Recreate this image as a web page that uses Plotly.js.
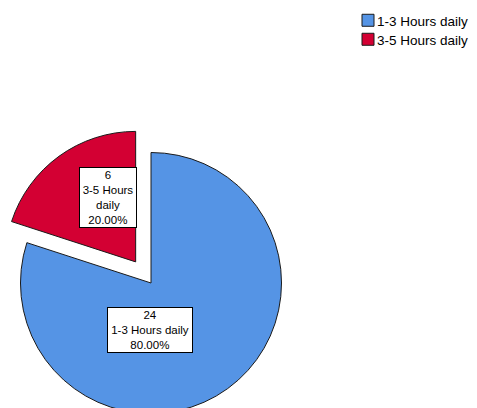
<!DOCTYPE html>
<html>
<head>
<meta charset="utf-8">
<script src="https://cdn.plot.ly/plotly-3.0.1.min.js"></script>
<style>
  html, body { margin: 0; padding: 0; overflow: hidden; background: #fff; width: 477px; height: 408px; }
  #chart { position: absolute; left: -10px; top: 0; width: 490px; height: 450px; }
</style>
</head>
<body>
<div id="chart"></div>
<script>
// ---- data ----
const categories = ['1-3 Hours daily', '3-5 Hours daily'];
const counts = [24, 6];
const sliceColors = ['#5594E5', '#D30033'];
const pulls = [0, 0.2];

// ---- layout geometry (pixels inside the plot div) ----
const W = 490, H = 450;
const cx = 161, cy = 283, r = 130.5;
const maxPull = Math.max(...pulls);
const half = r * (1 + maxPull);
const domainX = [(cx - half) / W, (cx + half) / W];
const domainY = [1 - (cy + half) / H, 1 - (cy - half) / H];

const total = counts.reduce((a, b) => a + b, 0);
const pct = counts.map(v => (100 * v / total).toFixed(2) + '%');
const labelText = [
  counts[0] + '<br>' + categories[0] + '<br>' + pct[0],
  counts[1] + '<br>' + categories[1].replace(' daily', '<br>daily') + '<br>' + pct[1]
];
// label box centres (pixel offsets from the pie centre) and box widths
const labelOffsets = [[-1.5, 47], [-43, -85.5]];
const labelWidths = [82, 54];

const annotations = labelText.map((t, i) => ({
  xref: 'paper', yref: 'paper',
  x: (cx + labelOffsets[i][0]) / W,
  y: 1 - (cy + labelOffsets[i][1]) / H,
  xanchor: 'center', yanchor: 'middle',
  text: t, showarrow: false, align: 'center',
  width: labelWidths[i],
  font: { family: 'Liberation Sans, Arial, sans-serif', size: 11.5, color: '#000' },
  bgcolor: '#fff', bordercolor: '#000', borderwidth: 1, borderpad: 1
}));

const trace = {
  type: 'pie',
  labels: categories,
  values: counts,
  pull: pulls,
  sort: false,
  direction: 'clockwise',
  rotation: 0,
  textinfo: 'none',
  hoverinfo: 'label+value+percent',
  marker: { colors: sliceColors, line: { color: '#1a1a1a', width: 1 } },
  domain: { x: domainX, y: domainY }
};

const layout = {
  width: W, height: H,
  margin: { l: 0, r: 0, t: 0, b: 0 },
  paper_bgcolor: '#fff',
  showlegend: true,
  legend: {
    x: 347 / W, xanchor: 'left',
    y: 1 - 5 / H, yanchor: 'top',
    font: { family: 'Liberation Sans, Arial, sans-serif', size: 13.5, color: '#000' },
    bgcolor: 'rgba(0,0,0,0)',
    itemwidth: 30,
    tracegroupgap: 0
  },
  annotations: annotations
};

Plotly.newPlot('chart', [trace], layout, { staticPlot: true, displayModeBar: false }).then(gd => {
  // pull the legend swatches closer to their text, as in the reference
  gd.querySelectorAll('.legend .legendpoints').forEach(el => {
    el.setAttribute('transform', 'translate(11,0)');
  });
  // tighter row spacing, as in the reference
  const rows = gd.querySelectorAll('.legend .traces');
  let y0 = null;
  rows.forEach((el, i) => {
    const m = /translate\(\s*([-\d.]+)[ ,]+([-\d.]+)\s*\)/.exec(el.getAttribute('transform') || '');
    if (!m) return;
    if (y0 === null) y0 = parseFloat(m[2]);
    el.setAttribute('transform', 'translate(' + m[1] + ',' + (y0 + i * 19) + ')');
  });
});
</script>
</body>
</html>
